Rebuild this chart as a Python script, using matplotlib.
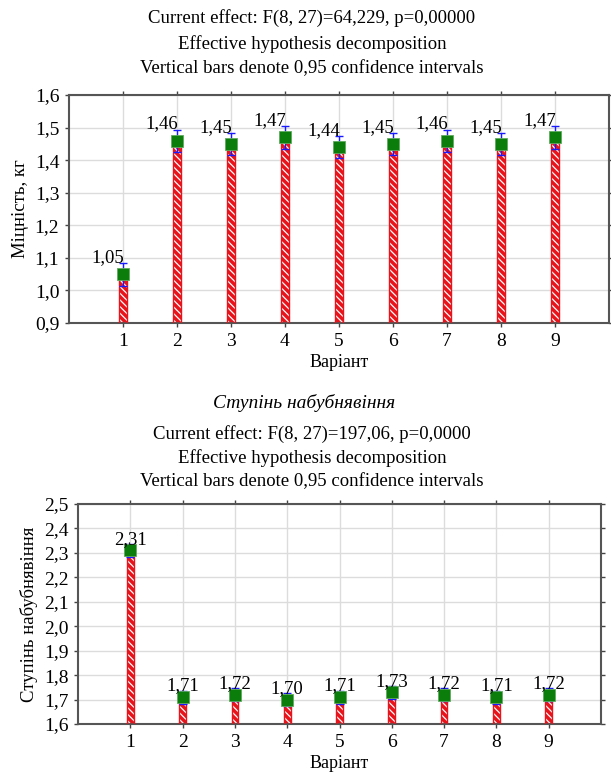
import matplotlib
matplotlib.use("Agg")
from matplotlib import pyplot as plt
from matplotlib.ticker import FuncFormatter, MultipleLocator

plt.rcParams['font.family'] = ['Liberation Serif', 'DejaVu Serif']
plt.rcParams['hatch.linewidth'] = 0.9

variants = [1, 2, 3, 4, 5, 6, 7, 8, 9]

# Міцність, кг
strength_mean = [1.05, 1.46, 1.45, 1.47, 1.44, 1.45, 1.46, 1.45, 1.47]
strength_ci = [0.035, 0.034, 0.034, 0.035, 0.034, 0.034, 0.034, 0.034, 0.035]

# Ступінь набубнявіння
swelling_mean = [2.31, 1.71, 1.72, 1.70, 1.71, 1.73, 1.72, 1.71, 1.72]
swelling_ci = [0.027, 0.027, 0.027, 0.027, 0.027, 0.027, 0.027, 0.027, 0.027]

comma = FuncFormatter(lambda v, pos: f"{v:.1f}".replace('.', ','))

W, H = 611, 779


def draw_panel(ax, means, ci, ymin, ymax, ylabel, label_dx, label_dy):
    heights = [m - ymin for m in means]
    # red bar with white diagonal stripes
    ax.bar(variants, heights, bottom=ymin, width=0.13, color='#e8141c',
           edgecolor='white', hatch='\\\\\\\\\\', linewidth=0, zorder=2)
    ax.bar(variants, heights, bottom=ymin, width=0.13, fill=False,
           edgecolor='#e8141c', linewidth=1.0, zorder=3)
    ax.errorbar(variants, means, yerr=ci, fmt='none', ecolor='#1a1aff',
                elinewidth=1.0, capsize=3, capthick=1.0, zorder=4)
    ax.plot(variants, means, 's', color='#0a7d0a', markersize=9,
            markeredgecolor='#5faa5f', markeredgewidth=0.6, zorder=5)
    for x, m in zip(variants, means):
        ax.annotate(f"{m:.2f}".replace('.', ','), (x, m),
                    xytext=(label_dx, label_dy), textcoords='offset points',
                    ha='center', va='center', fontsize=13.5, zorder=6)

    ax.set_xlim(0, 10)
    ax.set_ylim(ymin, ymax)
    ax.set_xticks(variants)
    ax.yaxis.set_major_locator(MultipleLocator(0.1))
    ax.yaxis.set_major_formatter(comma)
    ax.grid(True, color='#dcdcdc', linewidth=1.0, zorder=0)
    ax.set_axisbelow(True)
    ax.tick_params(labelsize=14, length=3, width=1, color='#444444',
                   top=True, right=True, pad=4)
    for s in ax.spines.values():
        s.set_color('#555555')
        s.set_linewidth(1.5)
    ax.set_xlabel("Варіант", fontsize=13, labelpad=3)
    ax.set_ylabel(ylabel, fontsize=13.5, labelpad=4)


fig = plt.figure(figsize=(W / 100, H / 100), dpi=100)

ax1 = fig.add_axes([69 / W, 1 - 323 / H, 540 / W, 228 / H])
draw_panel(ax1, strength_mean, strength_ci, 0.9, 1.6, "Міцність, кг", -11, 12)

ax2 = fig.add_axes([78 / W, 1 - 724 / H, 523 / W, 220 / H])
draw_panel(ax2, swelling_mean, swelling_ci, 1.6, 2.5, "Ступінь набубнявіння", 0, 8)

xc = 312 / W
fs = 13.5
fig.text(xc, 1 - 18 / H, "Current effect: F(8, 27)=64,229, p=0,00000", ha='center', va='center', fontsize=fs)
fig.text(xc, 1 - 44 / H, "Effective hypothesis decomposition", ha='center', va='center', fontsize=fs)
fig.text(xc, 1 - 69 / H, "Vertical bars denote 0,95 confidence intervals", ha='center', va='center', fontsize=fs)

fig.text(304 / W, 1 - 403 / H, "Ступінь набубнявіння", ha='center', va='center', fontsize=14, style='italic')
fig.text(xc, 1 - 434 / H, "Current effect: F(8, 27)=197,06, p=0,0000", ha='center', va='center', fontsize=fs)
fig.text(xc, 1 - 458 / H, "Effective hypothesis decomposition", ha='center', va='center', fontsize=fs)
fig.text(xc, 1 - 482 / H, "Vertical bars denote 0,95 confidence intervals", ha='center', va='center', fontsize=fs)

fig.savefig("out.png", dpi=100)
